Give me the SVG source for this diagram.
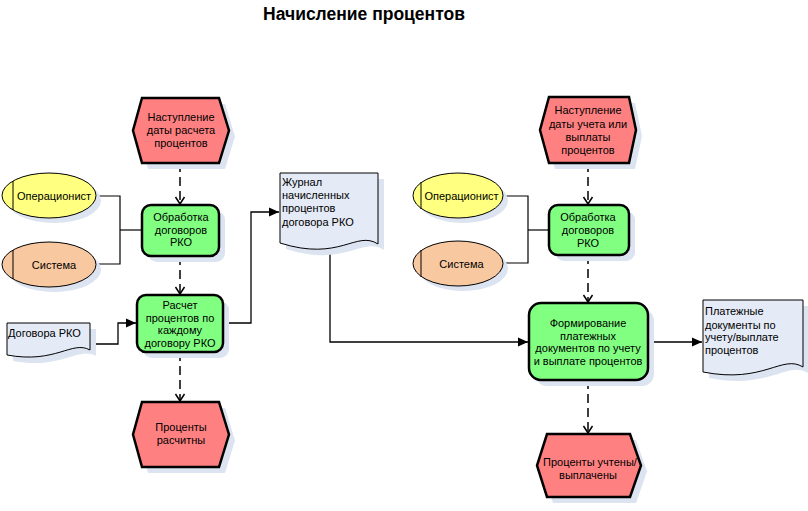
<svg xmlns="http://www.w3.org/2000/svg" width="808" height="511" viewBox="0 0 808 511">
<style>
text{font-family:"Liberation Sans",Arial,sans-serif;font-size:11px;fill:#000}
.t{text-anchor:middle}
.title{font-size:17.5px;font-weight:bold;text-anchor:middle}
.ev{fill:#FF8080;stroke:#000;stroke-width:2.5;stroke-linejoin:miter}
.fn{fill:#80FF80;stroke:#000;stroke-width:2.5}
.op{fill:#FFFF80;stroke:#000;stroke-width:1}
.sys{fill:#F8C8A0;stroke:#000;stroke-width:1}
.doc{fill:#E4EAF6;stroke:#000;stroke-width:1}
.sh{fill:#DCE3F1;stroke:none}
.ln{fill:none;stroke:#000;stroke-width:1.2}
.dash{fill:none;stroke:#000;stroke-width:1.5;stroke-dasharray:9,5}
.sol{fill:none;stroke:#000;stroke-width:1.3}
</style>
<defs>
<marker id="vee" markerUnits="userSpaceOnUse" viewBox="-9 -6 10 12" refX="0" refY="0" markerWidth="10" markerHeight="12" orient="auto">
<path d="M-7,-4.5 L0,0 L-7,4.5" fill="none" stroke="#000" stroke-width="1.5"/>
</marker>
<marker id="tri" markerUnits="userSpaceOnUse" viewBox="-11 -5 12 10" refX="0" refY="0" markerWidth="12" markerHeight="10" orient="auto">
<path d="M-10,-4.5 L0,0 L-10,4.5 Z" fill="#000"/>
</marker>
</defs>

<text class="title" x="364" y="20">Начисление процентов</text>

<g id="connectors">
<line class="dash" x1="180" y1="163" x2="180" y2="204" marker-end="url(#vee)"/>
<line class="dash" x1="180" y1="256" x2="180" y2="294" marker-end="url(#vee)"/>
<line class="dash" x1="180" y1="352" x2="180" y2="401" marker-end="url(#vee)"/>
<line class="dash" x1="588" y1="163" x2="588" y2="204" marker-end="url(#vee)"/>
<line class="dash" x1="588" y1="255" x2="588" y2="302" marker-end="url(#vee)"/>
<line class="dash" x1="588" y1="380" x2="588" y2="433" marker-end="url(#vee)"/>
<polyline class="ln" points="96,196 120,196 120,264 96,264"/>
<line class="ln" x1="120" y1="230" x2="142" y2="230"/>
<polyline class="ln" points="503,196 528,196 528,263 503,263"/>
<line class="ln" x1="528" y1="230" x2="549" y2="230"/>
<polyline class="sol" points="90,344 118,344 118,323 136,323" marker-end="url(#tri)"/>
<polyline class="sol" points="223,323 251,323 251,212 279,212" marker-end="url(#tri)"/>
<polyline class="sol" points="330,252 330,342 528,342" marker-end="url(#tri)"/>
<line class="sol" x1="648" y1="342" x2="702" y2="342" marker-end="url(#tri)"/>
</g>

<g id="ev1">
<polygon class="sh" points="148,104 225,104 235,136.5 225,169 148,169 139,136.5"/>
<polygon class="ev" points="142,98 219,98 229,130.5 219,163 142,163 133,130.5"/>
<text class="t" x="181" y="121">Наступление</text>
<text class="t" x="181" y="134">даты расчета</text>
<text class="t" x="181" y="147">процентов</text>
</g>

<g id="fn1">
<rect class="sh" x="148" y="211" width="77" height="51" rx="9"/>
<rect class="fn" x="142" y="205" width="77" height="51" rx="9"/>
<text class="t" x="181" y="221">Обработка</text>
<text class="t" x="181" y="233.5">договоров</text>
<text class="t" x="181" y="246">РКО</text>
</g>

<g id="op1">
<ellipse class="sh" cx="54" cy="200.5" rx="47" ry="22.5"/>
<ellipse class="op" cx="49" cy="195.5" rx="47" ry="22.5"/>
<line x1="13" y1="181" x2="13" y2="210" stroke="#000" stroke-width="1"/>
<text class="t" x="54" y="200">Операционист</text>
</g>

<g id="sys1">
<ellipse class="sh" cx="54" cy="269.5" rx="47" ry="22.5"/>
<ellipse class="sys" cx="49" cy="264.5" rx="47" ry="22.5"/>
<line x1="13" y1="250" x2="13" y2="279" stroke="#000" stroke-width="1"/>
<text class="t" x="54" y="268.5">Система</text>
</g>

<g id="doc1">
<path class="sh" d="M13,329 H96 V356 C78,346 62,370 13,361 Z"/>
<path class="doc" d="M7,323 H90 V350 C72,340 56,364 7,355 Z"/>
<text x="8" y="337">Договора РКО</text>
</g>

<g id="fn2">
<rect class="sh" x="143" y="301" width="86" height="57" rx="9"/>
<rect class="fn" x="137" y="295" width="86" height="57" rx="9"/>
<text class="t" x="180" y="309">Расчет</text>
<text class="t" x="180" y="321.5">процентов по</text>
<text class="t" x="180" y="334">каждому</text>
<text class="t" x="180" y="346.5">договору РКО</text>
</g>

<g id="ev2">
<polygon class="sh" points="148,408 225,408 235,440.5 225,473 148,473 139,440.5"/>
<polygon class="ev" points="142,402 219,402 229,434.5 219,467 142,467 133,434.5"/>
<text class="t" x="181" y="431">Проценты</text>
<text class="t" x="181" y="444">расчитны</text>
</g>

<g id="doc2">
<path class="sh" d="M286,179 H384 V250 C362,236 346,268 286,249 Z"/>
<path class="doc" d="M280,173 H378 V244 C356,230 340,262 280,243 Z"/>
<text x="282" y="185.5">Журнал</text>
<text x="282" y="199">начисленных</text>
<text x="282" y="212">процентов</text>
<text x="282" y="225.5">договора РКО</text>
</g>

<g id="ev3">
<polygon class="sh" points="555,103 635,103 642,136 635,169 555,169 546,136"/>
<polygon class="ev" points="549,97 629,97 636,130 629,163 549,163 540,130"/>
<text class="t" x="588" y="114">Наступление</text>
<text class="t" x="588" y="127.5">даты учета или</text>
<text class="t" x="588" y="140.5">выплаты</text>
<text class="t" x="588" y="154">процентов</text>
</g>

<g id="fn3">
<rect class="sh" x="555" y="211" width="80" height="50" rx="9"/>
<rect class="fn" x="549" y="205" width="80" height="50" rx="9"/>
<text class="t" x="588" y="220.5">Обработка</text>
<text class="t" x="588" y="234">договоров</text>
<text class="t" x="588" y="246.5">РКО</text>
</g>

<g id="op2">
<ellipse class="sh" cx="463" cy="200.5" rx="45" ry="22.5"/>
<ellipse class="op" cx="458" cy="195.5" rx="45" ry="22.5"/>
<line x1="421" y1="182" x2="421" y2="209" stroke="#000" stroke-width="1"/>
<text class="t" x="461.5" y="200">Операционист</text>
</g>

<g id="sys2">
<ellipse class="sh" cx="463" cy="268.5" rx="45" ry="22.5"/>
<ellipse class="sys" cx="458" cy="263.5" rx="45" ry="22.5"/>
<line x1="421" y1="250" x2="421" y2="277" stroke="#000" stroke-width="1"/>
<text class="t" x="461.5" y="267.5">Система</text>
</g>

<g id="fn4">
<rect class="sh" x="535" y="309" width="119" height="77" rx="12"/>
<rect class="fn" x="529" y="303" width="119" height="77" rx="12"/>
<text class="t" x="588" y="327">Формирование</text>
<text class="t" x="588" y="339.5">платежных</text>
<text class="t" x="588" y="352">документов по учету</text>
<text class="t" x="588" y="364.5">и выплате процентов</text>
</g>

<g id="doc3">
<path class="sh" d="M709,306 H808 V373 C788,360 770,390 709,378 Z"/>
<path class="doc" d="M703,300 H803 V367 C782,354 764,384 703,372 Z"/>
<text x="705" y="315">Платежные</text>
<text x="705" y="328.5">документы по</text>
<text x="705" y="341">учету/выплате</text>
<text x="705" y="354">процентов</text>
</g>

<g id="ev4">
<polygon class="sh" points="553,440 636,440 647,471.5 636,503 553,503 543,471.5"/>
<polygon class="ev" points="547,434 630,434 641,465.5 630,497 547,497 537,465.5"/>
<text class="t" x="590" y="466">Проценты учтены/</text>
<text class="t" x="588" y="478.5">выплачены</text>
</g>
</svg>
